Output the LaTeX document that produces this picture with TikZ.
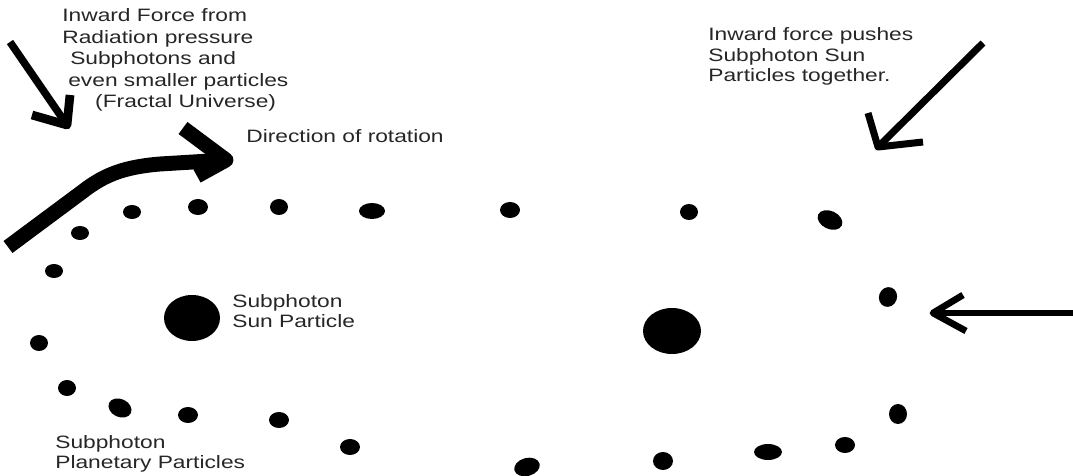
\documentclass[tikz,border=0pt]{standalone}
\usepackage{fontspec}
\setmainfont[FakeStretch=1.27]{Liberation Sans}

\tikzset{
  note/.style={anchor=base west, inner sep=0pt, align=left, text=black!85,
    font=\fontsize{10.2}{11.8}\selectfont},
  push/.style={line width=4.3pt, line cap=butt, line join=round},
}

\begin{document}
\begin{tikzpicture}[x=0.02cm, y=-0.02cm]
    \useasboundingbox (0,0) rectangle (1073,476);

    % texts (placed by the baseline of their last line)
    \node[note, font=\fontsize{10.2}{12.3}\selectfont] (radlbl) at (62,108) {Inward Force from\\Radiation pressure\\\hspace*{4.5pt}Subphotons and\\\hspace*{3.4pt}even smaller particles\\\hspace*{18.7pt}(Fractal Universe)};
    \node[note] (rotlbl) at (246,143) {Direction of rotation};
    \node[note] (pushlbl) at (708,82) {Inward force pushes\\Subphoton Sun\\Particles together.};
    \node[note, font=\fontsize{10.2}{11.4}\selectfont] (sunlbl) at (232,328) {Subphoton\\Sun Particle};
    \node[note] (planetlbl) at (55,469) {Subphoton\\Planetary Particles};

    % sun particles
    \coordinate (sunA) at (192,318);
    \coordinate (sunB) at (672,331);
    \fill (sunA) ellipse [x radius=28, y radius=23];
    \fill (sunB) ellipse [x radius=29, y radius=23];

    % planetary particles
    \foreach \x/\y/\a/\b/\r in {132/212/9/7/0, 198/207/10/8/0, 279/207/9/8/0,
        372/211/13/8/0, 510/210/10/8/0, 689/212/9/8/0, 830/220/13/9/-25,
        80/233/9/7/0, 54/271/9/7/0, 39/343/9/8/0, 67/388/9/8/0,
        120/408/12/9/-25, 188/415/10/8/0, 279/420/10/8/0, 350/447/10/8/0,
        527/467/13/9/15, 663/461/10/9/0, 768/452/14/8/0, 845/445/10/8/0,
        898/414/9/10/0, 888/297/9/10/-20}
      \fill[rotate around={\r:(\x,\y)}] (\x,\y) ellipse [x radius=\a, y radius=\b];

    % arrows
    \coordinate (radS) at (10,42);
    \coordinate (radT) at (67,125);
    \coordinate (radA) at (32,115);
    \coordinate (radB) at (70,95);
    \draw[push] (radS) -- (radT);
    \draw[push, line width=5pt] (radA) -- (radT) -- (radB);

    \coordinate (rotS) at (8,247);
    \coordinate (rotT) at (226,160);
    \coordinate (rotA) at (183,128);
    \coordinate (rotB) at (197,176);
    \draw[push, line width=8.5pt] (rotS) -- (82,192) .. controls (105,174) and (125,167) .. (160,164) -- (rotT);
    \draw[push, line width=8.5pt] (rotA) -- (rotT) -- (rotB);

    \coordinate (pushS) at (983,43);
    \coordinate (pushT) at (878,147);
    \coordinate (pushA) at (868,113);
    \coordinate (pushB) at (923,142);
    \draw[push, line width=4pt] (pushS) -- (pushT);
    \draw[push, line width=4pt] (pushA) -- (pushT) -- (pushB);

    \coordinate (sideS) at (1073,313);
    \coordinate (sideT) at (933,313);
    \coordinate (sideA) at (963,295);
    \coordinate (sideB) at (966,331);
    \draw[push, line width=3.8pt] (sideS) -- (sideT);
    \draw[push, line width=3.8pt] (sideA) -- (sideT) -- (sideB);
\end{tikzpicture}
\end{document}
